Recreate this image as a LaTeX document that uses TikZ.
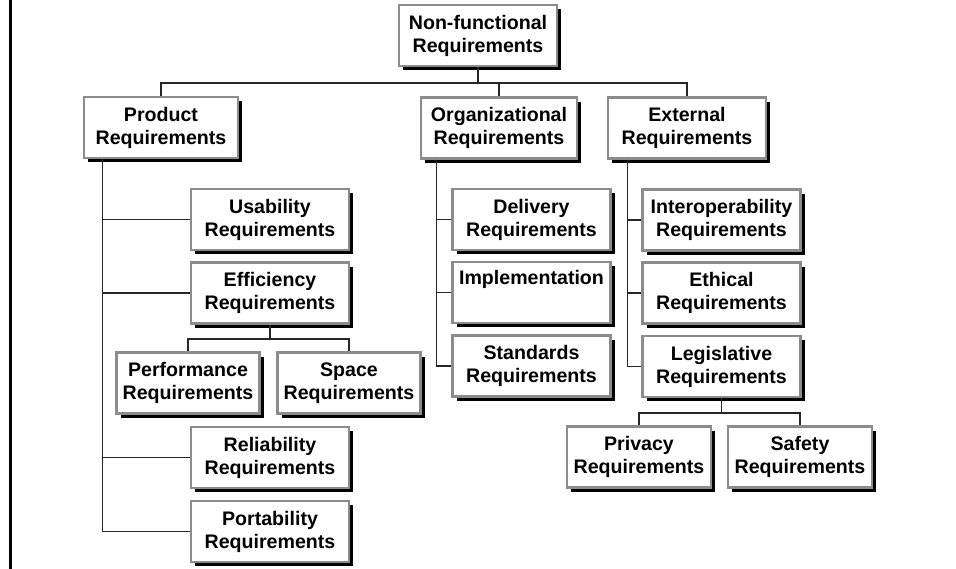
\documentclass[tikz,border=0pt]{standalone}
\usepackage{fontspec}
\setmainfont{Liberation Sans}
\usetikzlibrary{shadows}
\begin{document}
\begin{tikzpicture}[x=1pt,y=-1pt,
  reqbox/.style={draw=black!45, line width=2.2pt, fill=white, inner sep=0pt,
    minimum height=61pt, minimum width=#1, align=center,
    font=\fontsize{19.6}{23}\selectfont\bfseries,
    drop shadow={shadow xshift=4.3pt, shadow yshift=-4.3pt, fill=black, opacity=1}},
  reqbox/.default=158pt,
  conn/.style={draw=black!85, line width=1.1pt}]
\useasboundingbox (0,0) rectangle (956,569);
\fill[white] (0,0) rectangle (956,569);
\draw[line width=3pt, black] (10,0) -- (10,569);

\node[reqbox] (nf) at (478,35.5) {Non-functional\\Requirements};
\node[reqbox=154pt] (prod) at (161,127.5) {Product\\Requirements};
\node[reqbox=156pt] (org) at (499,128) {Organizational\\Requirements};
\node[reqbox] (ext) at (687,128) {External\\Requirements};

\node[reqbox] (usab) at (270,219.5) {Usability\\Requirements};
\node[reqbox] (eff) at (270,293) {Efficiency\\Requirements};
\node[reqbox=143pt] (perf) at (188,383) {Performance\\Requirements};
\node[reqbox=143pt] (space) at (349,383) {Space\\Requirements};
\node[reqbox] (rel) at (270,457.5) {Reliability\\Requirements};
\node[reqbox] (port) at (270,531.5) {Portability\\Requirements};

\node[reqbox] (deliv) at (531.5,219.5) {Delivery\\Requirements};
\node[reqbox] (impl) at (531.5,292.5) {Implementation\\\strut};
\node[reqbox] (stand) at (531.5,366) {Standards\\Requirements};

\node[reqbox] (inter) at (721.5,220) {Interoperability\\Requirements};
\node[reqbox] (eth) at (721.5,293) {Ethical\\Requirements};
\node[reqbox] (legis) at (721.5,366.5) {Legislative\\Requirements};
\node[reqbox=144pt] (priv) at (639,457) {Privacy\\Requirements};
\node[reqbox=144pt] (safe) at (800,457) {Safety\\Requirements};

\coordinate (topbar) at (0,83);
\coordinate (effbar) at (0,339);
\coordinate (legbar) at (0,413);

\draw[conn] (nf.south) -- (nf.south |- topbar);
\draw[conn] (prod.north) |- (ext.north |- topbar) -- (ext.north);
\draw[conn] (org.north) -- (org.north |- topbar);

\draw[conn] ([xshift=20pt]prod.south west) |- (usab.west);
\draw[conn] ([xshift=20pt]prod.south west) |- (eff.west);
\draw[conn] ([xshift=20pt]prod.south west) |- (rel.west);
\draw[conn] ([xshift=20pt]prod.south west) |- (port.west);

\draw[conn] (eff.south) -- (eff.south |- effbar);
\draw[conn] (perf.north) |- (space.north |- effbar) -- (space.north);

\draw[conn] ([xshift=17pt]org.south west) |- (deliv.west);
\draw[conn] ([xshift=17pt]org.south west) |- (impl.west);
\draw[conn] ([xshift=17pt]org.south west) |- (stand.west);

\draw[conn] ([xshift=21pt]ext.south west) |- (inter.west);
\draw[conn] ([xshift=21pt]ext.south west) |- (eth.west);
\draw[conn] ([xshift=21pt]ext.south west) |- (legis.west);

\draw[conn] (legis.south) -- (legis.south |- legbar);
\draw[conn] (priv.north) |- (safe.north |- legbar) -- (safe.north);
\end{tikzpicture}
\end{document}
